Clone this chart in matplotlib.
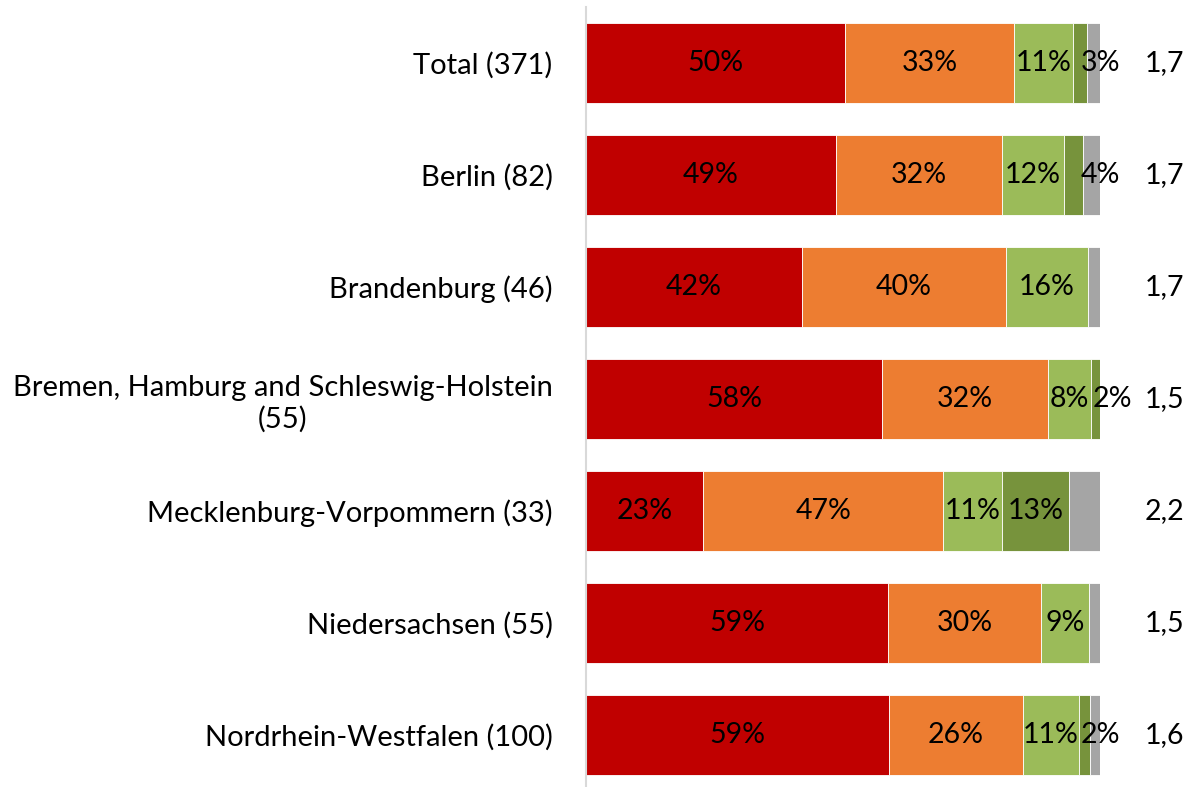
import numpy as np
import matplotlib
matplotlib.use("Agg")
import matplotlib.pyplot as plt

plt.rcParams['font.family'] = ['Lato', 'DejaVu Sans']

# rows, top to bottom
regions = ['Total (371)', 'Berlin (82)', 'Brandenburg (46)',
           'Bremen, Hamburg and Schleswig-Holstein\n(55)',
           'Mecklenburg-Vorpommern (33)', 'Niedersachsen (55)',
           'Nordrhein-Westfalen (100)']

# shares in percent per answer category
very_high = [50.4, 48.6, 42.0, 57.6, 22.8, 58.8, 59.0]
high      = [32.9, 32.3, 39.7, 32.3, 46.7, 29.8, 26.0]
medium    = [11.4, 12.1, 16.0, 8.4, 11.4, 9.3, 10.9]
low       = [2.8, 3.6, 0.0, 1.7, 13.0, 0.0, 2.1]
no_answer = [2.5, 3.4, 2.3, 0.0, 6.1, 2.1, 2.0]

means = ['1,7', '1,7', '1,7', '1,5', '2,2', '1,5', '1,6']

series = [very_high, high, medium, low, no_answer]
colors = ['#C00000', '#ED7D31', '#9BBB59', '#77933C', '#A5A5A5']
labelled = [True, True, True, True, False]

fs = 20.5

fig = plt.figure(figsize=(11.91, 7.87), dpi=100)
ax = fig.add_axes([586/1191, 1 - 791/787, 514/1191, 784/787])

y = np.arange(len(regions))
left = np.zeros(len(regions))
for k, (vals, col) in enumerate(zip(series, colors)):
    vals = np.array(vals)
    ax.barh(y, vals, left=left, height=0.714, color=col,
            edgecolor='white', linewidth=0.6)
    if labelled[k]:
        for i, v in enumerate(vals):
            if v <= 0:
                continue
            if v < 5:
                # small segments: label pushed towards the bar end
                ax.text(max(left[i] + 0.3, 96.3), y[i], '%.0f%%' % v,
                        ha='left', va='center', fontsize=fs, color='black')
            else:
                ax.text(left[i] + v / 2, y[i], '%.0f%%' % v,
                        ha='center', va='center', fontsize=fs, color='black')
    left = left + vals

for i, m in enumerate(means):
    ax.text(112.6, y[i], m, ha='center', va='center', fontsize=fs,
            clip_on=False)

ax.set_xlim(0, 100)
ax.set_ylim(len(regions) - 0.5, -0.5)
ax.set_yticks(y)
ax.set_yticklabels(regions, fontsize=21, ha='right')
ax.tick_params(axis='y', length=0, pad=24)
ax.set_xticks([])
for s in ['top', 'right', 'bottom']:
    ax.spines[s].set_visible(False)
ax.spines['left'].set_color('#D9D9D9')
ax.spines['left'].set_linewidth(1.5)

for t in ax.get_yticklabels():
    t.set_multialignment('center')

fig.savefig('out.png', dpi=100)
